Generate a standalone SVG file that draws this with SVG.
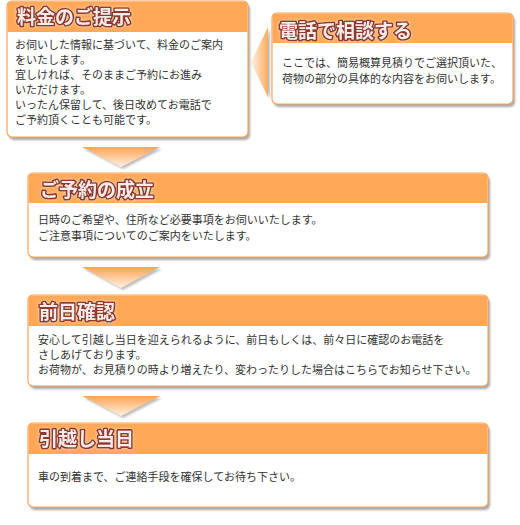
<svg xmlns="http://www.w3.org/2000/svg" width="520" height="525" viewBox="0 0 520 525">
<defs>
<filter id="sh" x="-5%" y="-10%" width="115%" height="130%">
<feGaussianBlur stdDeviation="1.2"/>
</filter>
<filter id="glow" x="-10%" y="-30%" width="120%" height="160%">
<feGaussianBlur in="SourceAlpha" stdDeviation="1.5" result="b"/>
<feFlood flood-color="#fff3e0" flood-opacity="0.7"/>
<feComposite in2="b" operator="in" result="g"/>
<feMerge><feMergeNode in="g"/><feMergeNode in="SourceGraphic"/></feMerge>
</filter>
<linearGradient id="gDown" x1="0" y1="0" x2="0" y2="1">
<stop offset="0" stop-color="#ffa453"/>
<stop offset="1" stop-color="#fff0e2"/>
</linearGradient>
<linearGradient id="gLeft" x1="1" y1="0" x2="0" y2="0">
<stop offset="0" stop-color="#ffab5e"/>
<stop offset="1" stop-color="#fff2e6"/>
</linearGradient>
</defs>
<style>
.shadow{fill:#8a8a8a;opacity:0.75;filter:url(#sh)}
.box{fill:#ffffff;stroke:#f9a45a;stroke-width:1.2}
.head{fill:#ffa858}
.title{font-family:"Noto Sans CJK JP","Noto Sans CJK SC",sans-serif;font-size:19px;font-weight:bold;fill:#fbeaea;stroke:#8e3a2e;stroke-width:3.2;stroke-linejoin:round;paint-order:stroke fill}
.body{font-family:"Noto Sans CJK JP","Noto Sans CJK SC",sans-serif;font-size:11px;fill:#333333}
.arrowsh{fill:#909090;opacity:0.6;filter:url(#sh)}
</style>
<rect width="520" height="525" fill="#ffffff"/>

<g id="connectors">
<polygon class="arrowsh" points="84,149 162,149 123,169"/>
<polygon points="82,147 160,147 121,167" fill="url(#gDown)"/>
<polygon class="arrowsh" points="84,269 162,269 123,290"/>
<polygon points="82,267 160,267 121,288" fill="url(#gDown)"/>
<polygon class="arrowsh" points="84,398 162,398 123,418"/>
<polygon points="82,396 160,396 121,416" fill="url(#gDown)"/>
<polygon class="arrowsh" points="270,29 270,99 253,64"/>
<polygon points="268,27 268,97 251,62" fill="url(#gLeft)"/>
</g>

<g id="node-price">
<rect class="shadow" x="9" y="4" width="241" height="136" rx="5"/>
<rect class="box" x="7" y="1" width="241" height="136" rx="5"/>
<path class="head" d="M7.6,32 V6 Q7.6,1.6 12,1.6 H243 Q247.4,1.6 247.4,6 V32 Z"/>
<text class="title" x="17" y="24" filter="url(#glow)">料金のご提示</text>
<text class="body" x="15" y="49">お伺いした情報に基づいて、料金のご案内</text>
<text class="body" x="15" y="64">をいたします。</text>
<text class="body" x="15" y="79">宜しければ、そのままご予約にお進み</text>
<text class="body" x="15" y="94">いただけます。</text>
<text class="body" x="15" y="109">いったん保留して、後日改めてお電話で</text>
<text class="body" x="15" y="124">ご予約頂くことも可能です。</text>
</g>

<g id="node-phone">
<rect class="shadow" x="274" y="16" width="241" height="91" rx="5"/>
<rect class="box" x="272" y="13" width="241" height="91" rx="5"/>
<path class="head" d="M272.6,43 V18 Q272.6,13.6 277,13.6 H508 Q512.4,13.6 512.4,18 V43 Z"/>
<text class="title" x="279" y="38" filter="url(#glow)">電話で相談する</text>
<text class="body" x="282" y="67">ここでは、簡易概算見積りでご選択頂いた、</text>
<text class="body" x="282" y="83">荷物の部分の具体的な内容をお伺いします。</text>
</g>

<g id="node-reserve">
<rect class="shadow" x="30" y="176" width="460" height="84" rx="5"/>
<rect class="box" x="28" y="173" width="460" height="84" rx="5"/>
<path class="head" d="M28.6,203 V178 Q28.6,173.6 33,173.6 H483 Q487.4,173.6 487.4,178 V203 Z"/>
<text class="title" x="40" y="197" filter="url(#glow)">ご予約の成立</text>
<text class="body" x="38" y="224">日時のご希望や、住所など必要事項をお伺いいたします。</text>
<text class="body" x="38" y="240">ご注意事項についてのご案内をいたします。</text>
</g>

<g id="node-confirm">
<rect class="shadow" x="30" y="298" width="460" height="91" rx="5"/>
<rect class="box" x="28" y="295" width="460" height="91" rx="5"/>
<path class="head" d="M28.6,326 V300 Q28.6,295.6 33,295.6 H483 Q487.4,295.6 487.4,300 V326 Z"/>
<text class="title" x="39" y="319" filter="url(#glow)">前日確認</text>
<text class="body" x="38" y="344">安心して引越し当日を迎えられるように、前日もしくは、前々日に確認のお電話を</text>
<text class="body" x="38" y="359">さしあげております。</text>
<text class="body" x="38" y="374">お荷物が、お見積りの時より増えたり、変わったりした場合はこちらでお知らせ下さい。</text>
</g>

<g id="node-moving-day">
<rect class="shadow" x="30" y="426" width="460" height="84" rx="5"/>
<rect class="box" x="28" y="423" width="460" height="84" rx="5"/>
<path class="head" d="M28.6,454 V428 Q28.6,423.6 33,423.6 H483 Q487.4,423.6 487.4,428 V454 Z"/>
<text class="title" x="39" y="446" filter="url(#glow)">引越し当日</text>
<text class="body" x="38" y="481">車の到着まで、ご連絡手段を確保してお待ち下さい。</text>
</g>
</svg>
